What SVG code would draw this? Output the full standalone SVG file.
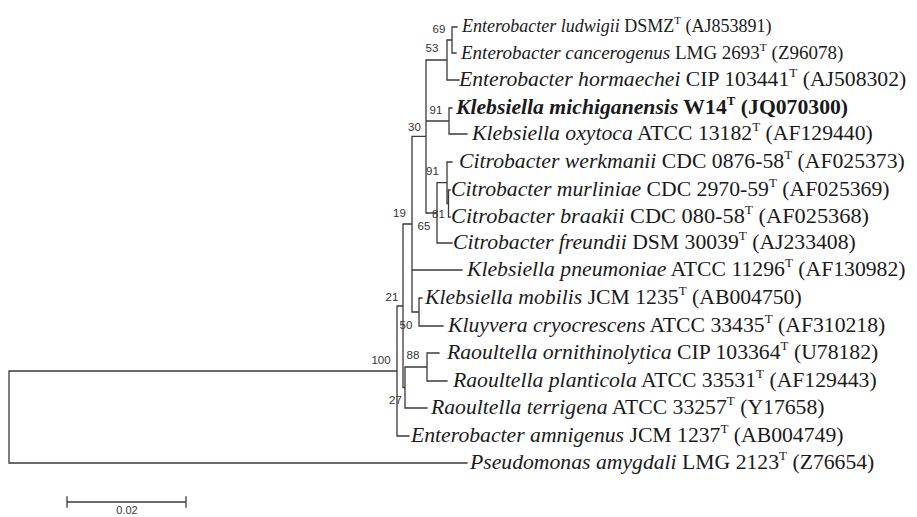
<svg xmlns="http://www.w3.org/2000/svg" width="917" height="517" viewBox="0 0 917 517">
<style>
.br{stroke:#3a3a3a;stroke-width:1.3;fill:none;stroke-linecap:square}
.bs{font-family:"Liberation Sans",Arial,sans-serif;font-size:11.5px;fill:#333;text-anchor:middle}
.lab{font-family:"Liberation Serif","Times New Roman",serif;font-size:21.7px;fill:#1a1a1a}
.sm{font-size:19px}
.xs{font-size:18px}
.it{font-style:italic}
.sup{font-size:0.6em}
.bold{font-weight:bold}
</style>
<rect width="917" height="517" fill="#fff"/>
<g id="connectors">
<path class="br" d="M9,371 H397 M9,371 V463 M9,463 H467
M397,306 V436 M397,436 H409 M397,306 H403
M403,224 V387.5 M403,224 H412 M403,387.5 H405
M405,367 V408 M405,408 H427 M405,367 H427
M427,353 V381 M427,353 H439 M427,381 H447
M412,136.4 V312 M412,270 H462 M412,312 H419
M419,298 V326 M419,298 H422 M419,326 H443
M412,136.4 H426 M426,60 V213
M426,60 H447 M447,40 V80 M447,80 H459 M447,40 H452 M452,27 V53 M452,27 H457 M452,53 H456
M426,121 H449 M449,108 V134 M449,108 H452 M449,134 H467
M426,213 H437 M437,182.7 V243 M437,243 H452 M437,182.7 H447 M447,162 V203.5 M447,162 H452 M447,203.5 H448.5 M448.5,190 V217 M448.5,190 H450 M448.5,217 H450"/>
</g>
<g id="bootstrap">
<text class="bs" x="439" y="32.5">69</text>
<text class="bs" x="432" y="52">53</text>
<text class="bs" x="436" y="113.5">91</text>
<text class="bs" x="414.5" y="130.5">30</text>
<text class="bs" x="432.5" y="175">91</text>
<text class="bs" x="438.5" y="217.5">81</text>
<text class="bs" x="424" y="229.5">65</text>
<text class="bs" x="399.5" y="217">19</text>
<text class="bs" x="392" y="301">21</text>
<text class="bs" x="406" y="329">50</text>
<text class="bs" x="413" y="359">88</text>
<text class="bs" x="381" y="364">100</text>
<text class="bs" x="395.5" y="404">27</text>
</g>
<g id="n1"><text class="lab xs" x="462" y="32"><tspan class="it">Enterobacter ludwigii</tspan> DSMZ<tspan class="sup" dy="-8">T</tspan><tspan dy="8"> (AJ853891)</tspan></text></g>
<g id="n2"><text class="lab sm" x="461" y="59"><tspan class="it">Enterobacter cancerogenus</tspan> LMG 2693<tspan class="sup" dy="-8">T</tspan><tspan dy="8"> (Z96078)</tspan></text></g>
<g id="n3"><text class="lab" x="459" y="86"><tspan class="it">Enterobacter hormaechei</tspan> CIP 103441<tspan class="sup" dy="-9">T</tspan><tspan dy="9"> (AJ508302)</tspan></text></g>
<g id="n4"><text class="lab bold" x="456" y="114"><tspan class="it">Klebsiella michiganensis</tspan> W14<tspan class="sup" dy="-9">T</tspan><tspan dy="9"> (JQ070300)</tspan></text></g>
<g id="n5"><text class="lab" x="472" y="140"><tspan class="it">Klebsiella oxytoca</tspan> ATCC 13182<tspan class="sup" dy="-9">T</tspan><tspan dy="9"> (AF129440)</tspan></text></g>
<g id="n6"><text class="lab" x="459" y="168"><tspan class="it">Citrobacter werkmanii</tspan> CDC 0876-58<tspan class="sup" dy="-9">T</tspan><tspan dy="9"> (AF025373)</tspan></text></g>
<g id="n7"><text class="lab" x="451" y="196"><tspan class="it">Citrobacter murliniae</tspan> CDC 2970-59<tspan class="sup" dy="-9">T</tspan><tspan dy="9"> (AF025369)</tspan></text></g>
<g id="n8"><text class="lab" x="451" y="223" textLength="418" lengthAdjust="spacingAndGlyphs"><tspan class="it">Citrobacter braakii</tspan> CDC 080-58<tspan class="sup" dy="-9">T</tspan><tspan dy="9"> (AF025368)</tspan></text></g>
<g id="n9"><text class="lab" x="453" y="249"><tspan class="it">Citrobacter freundii</tspan> DSM 30039<tspan class="sup" dy="-9">T</tspan><tspan dy="9"> (AJ233408)</tspan></text></g>
<g id="n10"><text class="lab" x="467" y="276"><tspan class="it">Klebsiella pneumoniae</tspan> ATCC 11296<tspan class="sup" dy="-9">T</tspan><tspan dy="9"> (AF130982)</tspan></text></g>
<g id="n11"><text class="lab" x="425" y="304"><tspan class="it">Klebsiella mobilis</tspan> JCM 1235<tspan class="sup" dy="-9">T</tspan><tspan dy="9"> (AB004750)</tspan></text></g>
<g id="n12"><text class="lab" x="448" y="332"><tspan class="it">Kluyvera cryocrescens</tspan> ATCC 33435<tspan class="sup" dy="-9">T</tspan><tspan dy="9"> (AF310218)</tspan></text></g>
<g id="n13"><text class="lab" x="447" y="359"><tspan class="it">Raoultella ornithinolytica</tspan> CIP 103364<tspan class="sup" dy="-9">T</tspan><tspan dy="9"> (U78182)</tspan></text></g>
<g id="n14"><text class="lab" x="453" y="387"><tspan class="it">Raoultella planticola</tspan> ATCC 33531<tspan class="sup" dy="-9">T</tspan><tspan dy="9"> (AF129443)</tspan></text></g>
<g id="n15"><text class="lab" x="431" y="414"><tspan class="it">Raoultella terrigena</tspan> ATCC 33257<tspan class="sup" dy="-9">T</tspan><tspan dy="9"> (Y17658)</tspan></text></g>
<g id="n16"><text class="lab" x="411" y="442"><tspan class="it">Enterobacter amnigenus</tspan> JCM 1237<tspan class="sup" dy="-9">T</tspan><tspan dy="9"> (AB004749)</tspan></text></g>
<g id="n17"><text class="lab" x="470" y="469"><tspan class="it">Pseudomonas amygdali</tspan> LMG 2123<tspan class="sup" dy="-9">T</tspan><tspan dy="9"> (Z76654)</tspan></text></g>
<g id="scale">
<path class="br" d="M67,502 H186 M67,497 V507 M186,497 V507"/>
<text class="bs" x="127" y="514" style="font-size:11px">0.02</text>
</g>
</svg>
